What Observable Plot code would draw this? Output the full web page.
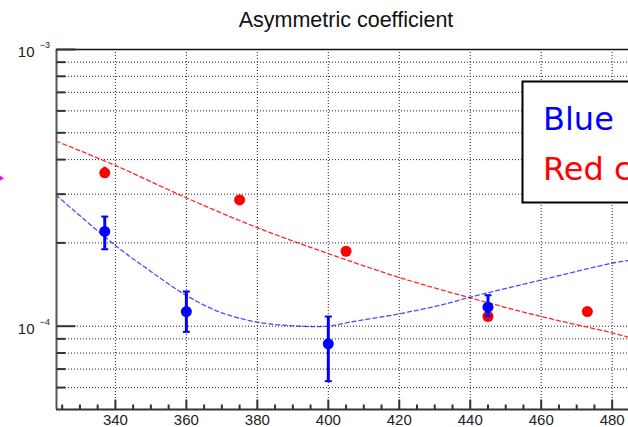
<!DOCTYPE html>
<html><head><meta charset="utf-8">
<script src="https://cdn.jsdelivr.net/npm/d3@7"></script>
<script src="https://cdn.jsdelivr.net/npm/@observablehq/plot@0.6"></script>
<style>
body{margin:0;background:#fff;}
#wrap{position:relative;width:628px;height:427px;overflow:hidden;}
#overlay{position:absolute;left:0;top:0;}
</style></head><body><div id="wrap"></div>
<script>
const title = "Asymmetric coefficient";
// Blue data points with asymmetric error bars
const blueX  = [337, 360, 400, 445];
const blueY  = [2.20e-4, 1.13e-4, 8.64e-5, 1.171e-4];
const blueLo = [1.897e-4, 9.54e-5, 6.33e-5, 1.087e-4];
const blueHi = [2.49e-4, 1.335e-4, 1.084e-4, 1.294e-4];
// Red data points
const redX  = [337, 375, 405, 445, 473];
const redY  = [3.585e-4, 2.86e-4, 1.866e-4, 1.084e-4, 1.13e-4];
const redLo = [3.42e-4, 2.77e-4, 1.866e-4, 1.084e-4, 1.13e-4];
const redHi = [3.756e-4, 2.97e-4, 1.866e-4, 1.084e-4, 1.13e-4];
// Dashed fit curves
const redFitX  = [323.4, 340, 360, 380, 400, 420, 440, 460, 480, 484.6];
const redFitY  = [4.66e-4, 3.81e-4, 2.91e-4, 2.27e-4, 1.83e-4, 1.50e-4, 1.266e-4, 1.084e-4, 9.46e-5, 9.12e-5];
const blueFitX = [323.4, 340, 350, 360, 370, 380, 390, 400, 406, 420, 432, 440, 460, 480, 484.6];
const blueFitY = [2.97e-4, 1.957e-4, 1.577e-4, 1.291e-4, 1.117e-4, 1.035e-4, 1.003e-4, 1.0e-4, 1.034e-4, 1.109e-4, 1.194e-4, 1.273e-4, 1.469e-4, 1.69e-4, 1.728e-4];
// Axes
const xDomain = [323.4, 484.6];
const yDomain = [5e-5, 1e-3];
const xMajor = [340, 360, 380, 400, 420, 440, 460, 480];
const xMinor = [325, 330, 335, 345, 350, 355, 365, 370, 375, 385, 390, 395, 405, 410, 415, 425, 430, 435, 445, 450, 455, 465, 470, 475, 485];
const yMajor = [1e-4, 1e-3];
const yMajorExp = ["\u22124", "\u22123"];
const yMinor = [6e-5, 7e-5, 8e-5, 9e-5, 2e-4, 3e-4, 4e-4, 5e-4, 6e-4, 7e-4, 8e-4, 9e-4];
const legendLabels = ["Blue", "Red c"];
const legendColors = ["#0000ff", "#ff0000"];

const blue = blueX.map((x, i) => ({x, y: blueY[i], lo: blueLo[i], hi: blueHi[i]}));
const red = redX.map((x, i) => ({x, y: redY[i], lo: redLo[i], hi: redHi[i]}));
const redFit = redFitX.map((x, i) => ({x, y: redFitY[i]}));
const blueFit = blueFitX.map((x, i) => ({x, y: blueFitY[i]}));
const yMaj = yMajor.map((v, i) => ({v, e: yMajorExp[i]}));

const hSeg = (a, b) => ({draw(ctx) { ctx.moveTo(a, 0); ctx.lineTo(b, 0); }});
const vSeg = (a, b) => ({draw(ctx) { ctx.moveTo(0, a); ctx.lineTo(0, b); }});
const font = "'Liberation Sans', Arial, sans-serif";

const chart = Plot.plot({
  width: 628, height: 427,
  marginLeft: 56, marginRight: 0, marginTop: 49, marginBottom: 18,
  style: {fontFamily: font, background: "#fff", overflow: "visible"},
  x: {domain: xDomain, axis: null},
  y: {type: "log", domain: yDomain, axis: null},
  marks: [
    Plot.ruleY([...yMinor, 1e-4], {y: d => d, stroke: "#222", strokeWidth: 1, strokeDasharray: "1,2"}),
    Plot.ruleX(xMajor, {x: d => d, stroke: "#222", strokeWidth: 1, strokeDasharray: "1,2"}),
    Plot.line(redFit, {x: "x", y: "y", stroke: "#ff0000", strokeWidth: 1.3, strokeDasharray: "4,3", curve: "catmull-rom", strokeOpacity: 0.85}),
    Plot.line(blueFit, {x: "x", y: "y", stroke: "#0000ff", strokeWidth: 1.3, strokeDasharray: "4,3", curve: "catmull-rom", strokeOpacity: 0.7}),
    Plot.ruleX(red, {x: "x", y1: "lo", y2: "hi", stroke: "#ff0000", strokeWidth: 3}),
    Plot.dot(red, {x: "x", y: "y", r: 5.5, fill: "#ff0000"}),
    Plot.ruleX(blue, {x: "x", y1: "lo", y2: "hi", stroke: "#0000ff", strokeWidth: 3}),
    Plot.dot(blue, {x: "x", y: "lo", symbol: hSeg(-3.5, 3.5), stroke: "#0000ff", strokeWidth: 2, fill: "none"}),
    Plot.dot(blue, {x: "x", y: "hi", symbol: hSeg(-3.5, 3.5), stroke: "#0000ff", strokeWidth: 2, fill: "none"}),
    Plot.dot(blue, {x: "x", y: "y", r: 5.5, fill: "#0000ff"}),
    // frame lines
    Plot.ruleX([xDomain[0]], {x: d => d, stroke: "#555", strokeWidth: 2}),
    Plot.ruleY([yDomain[1]], {y: d => d, stroke: "#111", strokeWidth: 1.5}),
    Plot.ruleY([yDomain[0]], {y: d => d, stroke: "#333", strokeWidth: 2}),
    // ticks
    Plot.dot(yMinor, {y: d => d, frameAnchor: "left", symbol: hSeg(0, 9), stroke: "#333", strokeWidth: 2, fill: "none"}),
    Plot.dot(yMajor, {y: d => d, frameAnchor: "left", symbol: hSeg(0, 19), stroke: "#333", strokeWidth: 2, fill: "none"}),
    Plot.dot(xMinor, {x: d => d, frameAnchor: "bottom", symbol: vSeg(0, -5), stroke: "#333", strokeWidth: 2, fill: "none"}),
    Plot.dot(xMajor, {x: d => d, frameAnchor: "bottom", symbol: vSeg(0, -10), stroke: "#333", strokeWidth: 2, fill: "none"}),
    // labels
    Plot.text(xMajor, {x: d => d, frameAnchor: "bottom", lineAnchor: "middle", text: d => String(d), dy: 11, fontSize: 15, fill: "#222"}),
    Plot.text(yMaj, {y: "v", frameAnchor: "left", lineAnchor: "middle", text: () => "10", textAnchor: "end", dx: -22, dy: 3, fontSize: 15, fill: "#222"}),
    Plot.text(yMaj, {y: "v", frameAnchor: "left", lineAnchor: "middle", text: "e", textAnchor: "end", dx: -6.5, dy: -4, fontSize: 9, fill: "#222"}),
    Plot.text([title], {frameAnchor: "top", lineAnchor: "middle", text: d => d, dy: -29, dx: 3.5, fontSize: 21.5, fill: "#111"})
  ]
});
const wrap = document.getElementById("wrap");
wrap.appendChild(chart);

// legend box (partially cut off at the right edge, as in the reference)
const ns = "http://www.w3.org/2000/svg";
const ov = document.createElementNS(ns, "svg");
ov.setAttribute("id", "overlay");
ov.setAttribute("width", 628); ov.setAttribute("height", 427);
const box = document.createElementNS(ns, "rect");
box.setAttribute("x", 522.5); box.setAttribute("y", 81.5);
box.setAttribute("width", 200); box.setAttribute("height", 121);
box.setAttribute("fill", "#fff"); box.setAttribute("stroke", "#000"); box.setAttribute("stroke-width", 2);
ov.appendChild(box);
legendLabels.forEach((t, i) => {
  const tx = document.createElementNS(ns, "text");
  tx.setAttribute("x", 543); tx.setAttribute("y", 129.5 + i * 50.5);
  tx.setAttribute("fill", legendColors[i]);
  tx.setAttribute("font-family", "'DejaVu Sans', sans-serif");
  tx.setAttribute("font-size", 32);
  tx.textContent = t;
  ov.appendChild(tx);
});
const tri = document.createElementNS(ns, "polygon");
tri.setAttribute("points", "0,175.5 4,178.5 0,180.5");
tri.setAttribute("fill", "#ff00ff");
ov.appendChild(tri);
wrap.appendChild(ov);
</script>
</body></html>
